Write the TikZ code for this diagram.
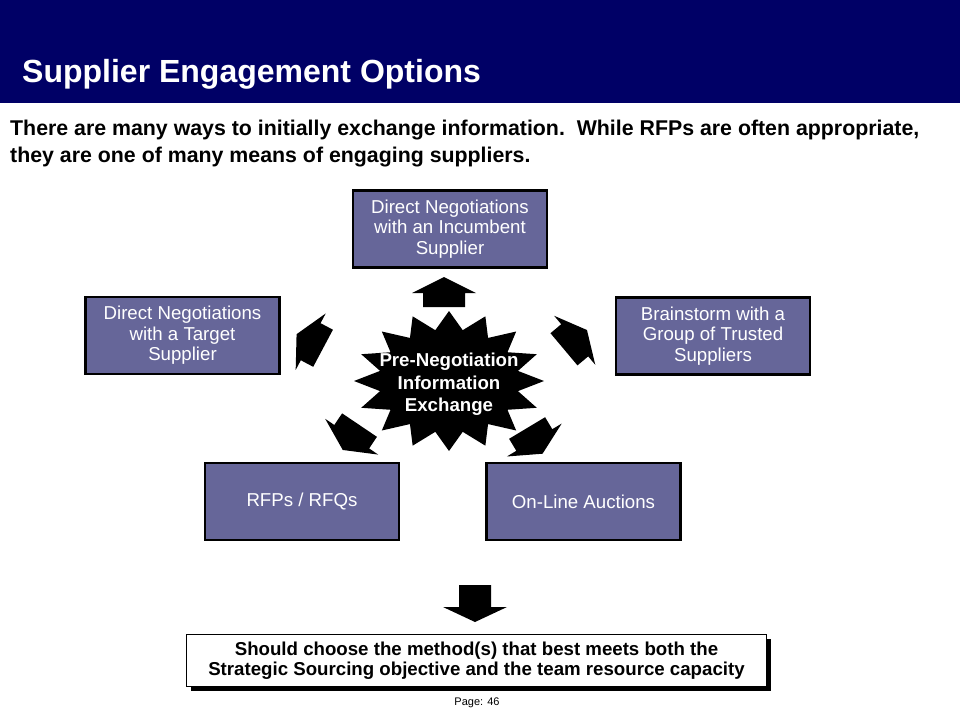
\documentclass[tikz,border=0pt]{standalone}
\usepackage{fontspec}
\setmainfont{Liberation Sans}
\usetikzlibrary{shadows}
\definecolor{navy}{RGB}{0,0,102}
\definecolor{boxfill}{RGB}{102,102,153}
\begin{document}
\begin{tikzpicture}[x=1pt,y=-1pt,
  optbox/.style={draw=black, line width=2.5pt, fill=boxfill, text=white,
    minimum width=194pt, minimum height=77pt, inner sep=0pt, align=center,
    font=\fontsize{18.67}{20.5}\selectfont},
  startext/.style={text=white, align=center, inner sep=0pt,
    font=\bfseries\fontsize{18.67}{22.5}\selectfont},
  pics/blockarrow/.style={code={
    \fill[black] (16,0) -- (0,32) -- (0,21) -- (-14,21) -- (-14,-21) -- (0,-21) -- (0,-32) -- cycle;}},
  pics/downarrow/.style={code={
    \fill[black] (15,0) -- (0,32) -- (0,16) -- (-22,16) -- (-22,-16) -- (0,-16) -- (0,-32) -- cycle;}}
]
\useasboundingbox (0,0) rectangle (960,720);
\fill[white] (0,0) rectangle (960,720);
% header
\fill[navy] (0,0) rectangle (960,103);
\node[anchor=base west, inner sep=0pt, text=white,
  font=\bfseries\fontsize{32}{38}\selectfont] (title) at (22,82) {Supplier Engagement Options};
\node[anchor=north west, inner sep=0pt, align=left,
  font=\bfseries\fontsize{21.33}{27}\selectfont] (intro) at (10,120)
  {There are many ways to initially exchange information.\ \ While RFPs are often appropriate,\\they are one of many means of engaging suppliers.};
% option boxes
\node[optbox] (incumbent) at (450,229) {Direct Negotiations\\with an Incumbent\\Supplier};
\node[optbox] (target) at (182.5,335.5) {Direct Negotiations\\with a Target\\Supplier};
\node[optbox] (brainstorm) at (713,336) {Brainstorm with a\\Group of Trusted\\Suppliers};
\node[optbox] (rfp) at (302,501.5) {RFPs / RFQs};
\node[optbox] (auction) at (583.5,501.5) {On-Line Auctions};
% central star
\fill[black] plot[variable=\i, samples at={0,...,31}]
  ({449+95*(1-0.26*mod(\i,2))*cos(90+11.25*\i)},
   {381-70*(1-0.26*mod(\i,2))*sin(90+11.25*\i)}) -- cycle;
\node[startext] (star) at (449,384.5) {Pre-Negotiation\\Information\\Exchange};
% block arrows from the star
\coordinate (aTop) at (444,293);
\coordinate (aLeft) at (310.7,341.7);
\coordinate (aRight) at (574.7,340.3);
\coordinate (aLowLeft) at (351.7,436.7);
\coordinate (aLowRight) at (534.3,440);
\pic[rotate=90] at (aTop) {blockarrow};
\pic[rotate=152] at (aLeft) {blockarrow};
\pic[rotate=40] at (aRight) {blockarrow};
\pic[rotate=236] at (aLowLeft) {blockarrow};
\pic[rotate=301] at (aLowRight) {blockarrow};
% conclusion
\coordinate (aDown) at (475,607);
\pic[rotate=-90] at (aDown) {downarrow};
\node[draw=black, line width=1.5pt, fill=white, minimum width=580pt, minimum height=52pt,
  inner sep=0pt, align=center, font=\bfseries\fontsize{18.67}{20}\selectfont,
  drop shadow={shadow xshift=4pt, shadow yshift=-4pt, fill=black, opacity=1}]
  (choice) at (476.5,660.5)
  {Should choose the method(s) that best meets both the\\Strategic Sourcing objective and the team resource capacity};
\node[inner sep=0pt, font=\fontsize{11}{13}\selectfont] (page) at (477,703) {Page: 46};
\end{tikzpicture}
\end{document}
